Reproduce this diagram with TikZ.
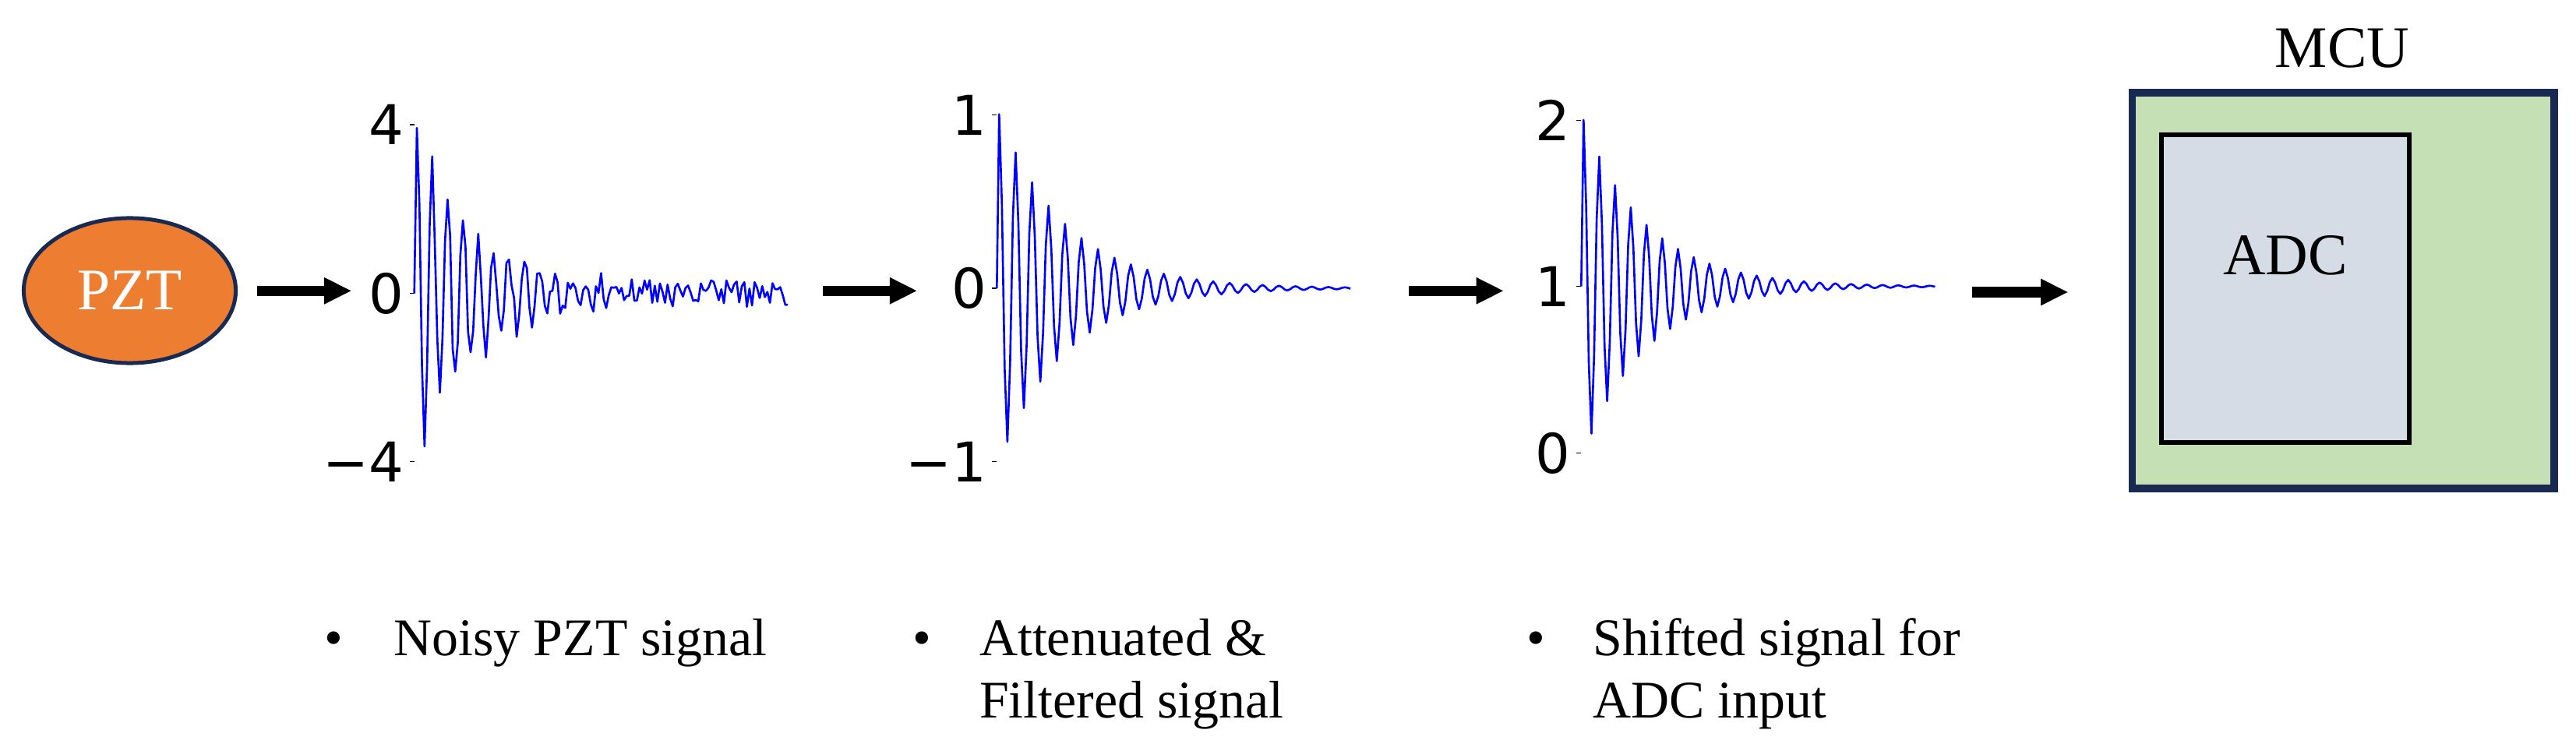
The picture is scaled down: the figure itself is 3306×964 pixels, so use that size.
\documentclass[tikz,border=0pt]{standalone}
\usepackage{fontspec}
\setmainfont{Liberation Serif}
\newfontfamily\tickfont{DejaVu Sans}
\usetikzlibrary{arrows.meta,shapes.geometric}
\definecolor{pztorange}{HTML}{ED7D31}
\definecolor{navy}{HTML}{182A52}
\definecolor{mcugreen}{HTML}{C5E0B4}
\definecolor{adcgray}{HTML}{D6DCE5}
\definecolor{sigblue}{HTML}{0000FF}
\begin{document}
\begin{tikzpicture}[x=0.01cm,y=-0.01cm,
  bigarrow/.style={black, line width=3.77pt, -{Triangle[length=9.8pt,width=9.9pt,line width=0pt]}},
  sig/.style={sigblue, line width=0.75pt, line join=round},
  tickmark/.style={black, line width=0.35pt},
  ticklabel/.style={anchor=east, inner sep=0pt, font=\tickfont\fontsize{20pt}{24pt}\selectfont},
  caption/.style={anchor=base west, inner sep=0pt, font=\fontsize{19.3pt}{23pt}\selectfont},
  bulletmark/.style={anchor=base, inner sep=0pt, font=\fontsize{19.3pt}{23pt}\selectfont},
  boxlabel/.style={anchor=base, inner sep=0pt, font=\fontsize{21.5pt}{25pt}\selectfont},
]
\useasboundingbox (0,0) rectangle (3306,964);
\pgfmathsetseed{12}

% PZT
\node[ellipse, draw=navy, line width=1.42pt, fill=pztorange, minimum width=2.72cm,
      minimum height=1.86cm, inner sep=0pt, text=white,
      font=\fontsize{21.5pt}{25pt}\selectfont] (pzt) at (166.5,373) {PZT};

% MCU / ADC
\node[draw=navy, line width=2.69pt, fill=mcugreen, minimum width=5.4125cm,
      minimum height=5.08cm, inner sep=0pt] (mcu) at (3007.4,373) {};
\node[draw=black, line width=1.7pt, fill=adcgray, minimum width=3.18cm,
      minimum height=3.947cm, inner sep=0pt] (adc) at (2932.7,370.35) {};
\node[boxlabel] (adclabel) at (2933,353) {ADC};
\node[boxlabel] (mculabel) at (3006,86.7) {MCU};

% arrows
\coordinate (a1s) at (329.7,373.3);  \coordinate (a1e) at (450.4,373.3);
\coordinate (a2s) at (1055.6,373.3); \coordinate (a2e) at (1176.3,373.3);
\coordinate (a3s) at (1807.6,373.3); \coordinate (a3e) at (1929,373.3);
\coordinate (a4s) at (2531,375);     \coordinate (a4e) at (2653.5,375);
\draw[bigarrow] (a1s) -- (a1e);
\draw[bigarrow] (a2s) -- (a2e);
\draw[bigarrow] (a3s) -- (a3e);
\draw[bigarrow] (a4s) -- (a4e);

% plot 1 : noisy PZT signal
\draw[tickmark] (526,160) -- (531.7,160);
\draw[tickmark] (526,376.7) -- (531.7,376.7);
\draw[tickmark] (526,592.7) -- (531.7,592.7);
\node[ticklabel] (p1a) at (519,160) {4};
\node[ticklabel] (p1b) at (519,376.7) {0};
\node[ticklabel] (p1c) at (519,592.7) {−4};
\draw[sig] (531.7,376.7) -- plot[domain=0:476.1, samples=146, variable=\t]
  ({535+\t},{376.7-54*(3.8*exp(-0.01261*\t)*cos(18.2741*\t)+0.3*rand)});

% plot 2 : attenuated & filtered
\draw[tickmark] (1273,147.7) -- (1279.3,147.7);
\draw[tickmark] (1273,370) -- (1279.3,370);
\draw[tickmark] (1273,592.7) -- (1279.3,592.7);
\node[ticklabel] (p2a) at (1267,147.7) {1};
\node[ticklabel] (p2b) at (1267,370) {0};
\node[ticklabel] (p2c) at (1267,592.7) {−1};
\draw[sig] (1279.3,370) -- plot[domain=0:450.8, samples=129, variable=\t]
  ({1282.3+\t},{370-223.3*exp(-0.01176*\t)*cos(17.0374*\t)});

% plot 3 : shifted
\draw[tickmark] (2023,154.3) -- (2029.3,154.3);
\draw[tickmark] (2023,367.7) -- (2029.3,367.7);
\draw[tickmark] (2023,581.7) -- (2029.3,581.7);
\node[ticklabel] (p3a) at (2016,154.3) {2};
\node[ticklabel] (p3b) at (2016,367.7) {1};
\node[ticklabel] (p3c) at (2016,581.7) {0};
\draw[sig] (2029.3,367.7) -- plot[domain=0:451.1, samples=135, variable=\t]
  ({2032.3+\t},{367.7-213.7*exp(-0.0123*\t)*cos(17.8218*\t)});

% captions
\node[bulletmark] (b1) at (428.3,841.7) {•};
\node[caption] (c1) at (505,841.7) {Noisy PZT signal};
\node[bulletmark] (b2) at (1183,841.7) {•};
\node[caption] (c2a) at (1256.5,841.7) {Attenuated \&};
\node[caption] (c2b) at (1256.5,921.7) {Filtered signal};
\node[bulletmark] (b3) at (1971,841.7) {•};
\node[caption] (c3a) at (2044,841.7) {Shifted signal for};
\node[caption] (c3b) at (2044,921.7) {ADC input};
\end{tikzpicture}
\end{document}
